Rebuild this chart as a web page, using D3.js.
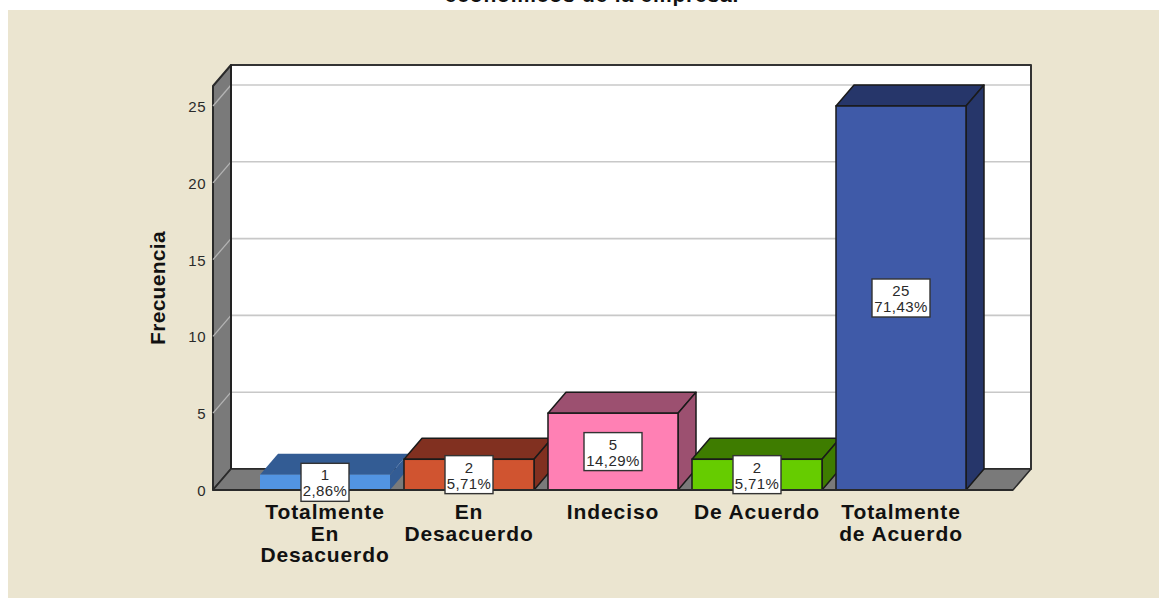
<!DOCTYPE html>
<html><head><meta charset="utf-8">
<script src="https://cdnjs.cloudflare.com/ajax/libs/d3/7.8.5/d3.min.js"></script>
<style>html,body{margin:0;padding:0;background:#fff;overflow:hidden}svg{display:block}text{font-family:"Liberation Sans",Arial,sans-serif}</style>
</head><body><svg id="c" width="1159" height="598"></svg>
<script>
const categories=[["Totalmente","En","Desacuerdo"],["En","Desacuerdo"],["Indeciso"],["De Acuerdo"],["Totalmente","de Acuerdo"]];
const counts=[1,2,5,2,25];
const percents=["2,86%","5,71%","14,29%","5,71%","71,43%"];
const frontColors=["#5294e2","#d05430","#ff80b4","#66cc00","#3f5aa8"];
const sideColors=["#335c94","#813020","#9c5070","#3e7c00","#26366a"];
const edgeColors=["none","#1a1a1a","#1a1a1a","#1a1a1a","#1a1a1a"];
const yTicks=[0,5,10,15,20,25];
const titleText="económicos de la empresa.";
const yLabel="Frecuencia";

const svg=d3.select("#c");
const dx=18,dy=-21;
const y=d3.scaleLinear().domain([0,25]).range([490,106]);
const x=d3.scaleBand().domain(d3.range(categories.length)).range([253,973]).paddingInner(14/144).paddingOuter(7/144);
const leftX=213,rightX=1013,topBack=65,topFront=86;
const line=d3.line();
svg.append("rect").attr("x",8).attr("y",10).attr("width",1151).attr("height",588).attr("fill","#ebe5d0");
svg.append("text").attr("x",592).attr("y",1.5).attr("text-anchor","middle").attr("font-size",21).attr("letter-spacing",0.8).attr("font-weight","bold").attr("fill","#111").text(titleText);
const poly=(pts,f,s,w)=>svg.append("path").attr("d",line(pts)+"Z").attr("fill",f).attr("stroke",s||"none").attr("stroke-width",w||0).attr("stroke-linejoin","round");
poly([[leftX+dx,topBack],[rightX+dx,topBack],[rightX+dx,y(0)+dy],[leftX+dx,y(0)+dy]],"#fff","#333",2);
poly([[leftX,topFront],[leftX+dx,topBack],[leftX+dx,y(0)+dy],[leftX,y(0)]],"#7a7a7a","#2a2a2a",2);
poly([[leftX,y(0)],[leftX+dx,y(0)+dy],[rightX+dx,y(0)+dy],[rightX,y(0)]],"#7a7a7a","#2a2a2a",1.5);
yTicks.slice(1).forEach(t=>{
 svg.append("path").attr("d",line([[leftX,y(t)],[leftX+dx,y(t)+dy]])).attr("fill","none").attr("stroke","#b4b4b4").attr("stroke-width",1.3);
 svg.append("path").attr("d",line([[leftX+dx,y(t)+dy],[rightX+dx,y(t)+dy]])).attr("fill","none").attr("stroke","#c8c8c8").attr("stroke-width",1.6);
});
svg.append("path").attr("d",line([[leftX+dx,topBack],[leftX+dx,y(0)+dy]])).attr("stroke","#222").attr("stroke-width",2);
svg.append("path").attr("d",line([[rightX+dx,topBack],[rightX+dx,y(0)+dy]])).attr("stroke","#333").attr("stroke-width",2);
svg.selectAll("text.yt").data(yTicks).join("text").attr("class","yt").attr("x",206).attr("y",d=>y(d)+6).attr("text-anchor","end").attr("font-size",15).attr("letter-spacing",0.5).attr("fill","#2a2a2a").text(d=>d);
svg.append("text").attr("transform","translate(165,288) rotate(-90)").attr("text-anchor","middle").attr("font-size",21).attr("letter-spacing",0.3).attr("font-weight","bold").attr("fill","#111").text(yLabel);
counts.forEach((v,i)=>{
 const x0=x(i),x1=x0+x.bandwidth(),yt=y(v),yb=y(0);
 poly([[x0,yt],[x0+dx,yt+dy],[x1+dx,yt+dy],[x1,yt]],sideColors[i],edgeColors[i],1.5);
 poly([[x1,yt],[x1+dx,yt+dy],[x1+dx,yb+dy],[x1,yb]],sideColors[i],edgeColors[i],1.5);
 svg.append("rect").attr("x",x0).attr("y",yt).attr("width",x.bandwidth()).attr("height",yb-yt).attr("fill",frontColors[i]).attr("stroke",edgeColors[i]).attr("stroke-width",1.5);
});
svg.append("path").attr("d",line([[leftX,y(0)],[rightX,y(0)]])).attr("stroke","#2a2a2a").attr("stroke-width",1.8);
counts.forEach((v,i)=>{
 const cx=x(i)+x.bandwidth()/2, cy=y(v/2);
 const w=percents[i].length>5?58:48,h=38;
 svg.append("rect").attr("x",cx-w/2).attr("y",cy-h/2).attr("width",w).attr("height",h).attr("fill","#fff").attr("stroke","#333").attr("stroke-width",1.4);
 svg.append("text").attr("x",cx).attr("y",cy-2).attr("text-anchor","middle").attr("font-size",15).attr("letter-spacing",0.4).attr("fill","#2a2a2a").text(v);
 svg.append("text").attr("x",cx).attr("y",cy+14).attr("text-anchor","middle").attr("font-size",15).attr("letter-spacing",0.4).attr("fill","#2a2a2a").text(percents[i]);
 categories[i].forEach((ln,k)=>{
  svg.append("text").attr("x",cx).attr("y",519+k*21.5).attr("text-anchor","middle").attr("font-size",21).attr("letter-spacing",0.9).attr("font-weight","bold").attr("fill","#111").text(ln);
 });
});
</script></body></html>
